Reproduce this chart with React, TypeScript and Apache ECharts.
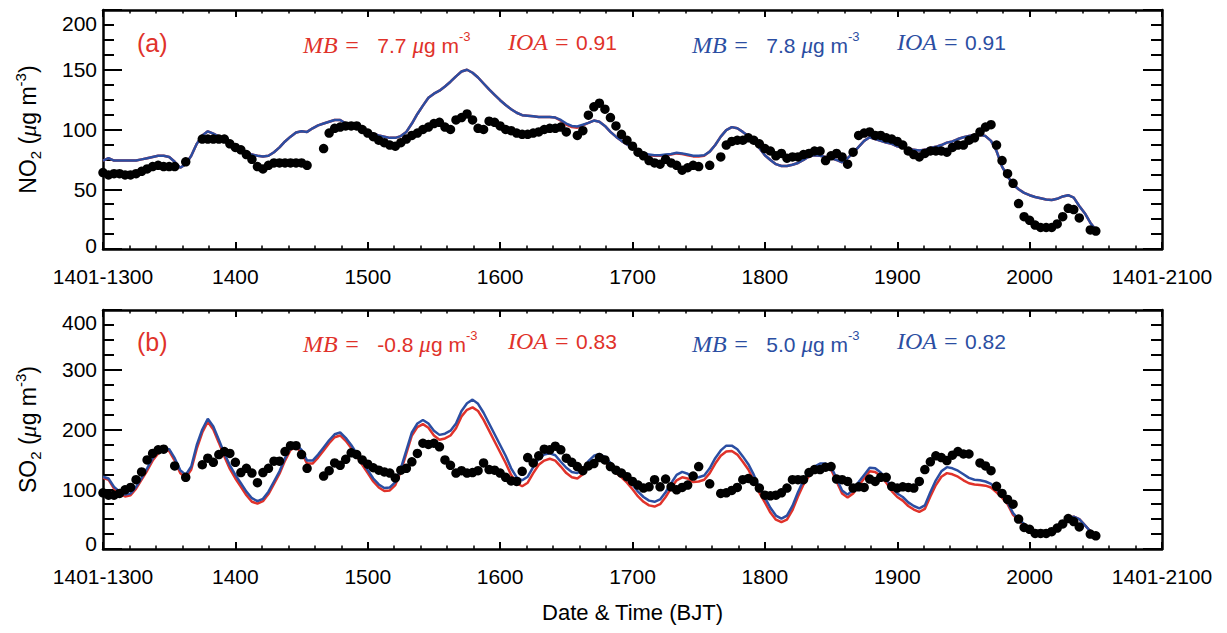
import React, { useEffect, useRef } from 'react';
import * as echarts from 'echarts';

// x positions are hours after 1401-1300 (hourly data); 24 h = one labelled tick
const xTickLabels = ['1401-1300', '1400', '1500', '1600', '1700', '1800', '1900', '2000', '1401-2100'];

const no2Obs = [
  64, 62, 63, 63, 62, 62, 63, 65, 67, 69,
  70, 69, 69, 69, null, 73, null, null, 92, 92,
  92, 92, 92, 88, 85, 83, 79, 75, 69, 67,
  70, 72, 72, 72, 72, 72, 72, 70, null, null,
  84, 97, 101, 102, 103, 103, 103, 100, 97, 94,
  91, 89, 87, 86, 89, 92, 95, 97, 100, 102,
  105, 106, 102, 100, 108, 110, 113, 108, 101, 100,
  107, 106, 103, 100, 99, 97, 96, 96, 97, 98,
  100, 101, 101, 102, 98, null, 95, 99, 112, 119,
  122, 117, 110, 103, 96, 91, 86, 81, 78, 74,
  72, 71, 75, 72, 70, 66, 68, 70, 69, null,
  70, null, 77, 87, 90, 91, 91, 93, 91, 88,
  84, 82, 78, 80, 76, 77, 77, 79, 80, 82,
  82, 74, 78, 80, 77, 71, 81, 95, 97, 98,
  95, 95, 93, 92, 90, 87, 82, 79, 77, 80,
  82, 82, 82, 81, 85, 87, 87, 91, 93, 98,
  102, 104, 87, 74, 63, 55, 38, 27, 24, 20,
  18, 18, 18, 21, 27, 34, 33, 26, null, 16,
  15,
];

const no2Blue = [
  74, 76, 74, 74, 74, 74, 74, 75, 76, 77,
  78, 78, 77, 73, 68, 71, 78, 88, 95, 98.5,
  96.5, 94, 92, 88, 85, 83, 81, 79, 78, 77.5,
  78, 81, 85, 90, 94, 97.5, 98.5, 98, 101, 103.5,
  105, 106.5, 108, 108, 105, 103.5, 102, 100, 98, 96.5,
  95, 94, 93, 93, 94.5, 98, 105, 113, 120, 126.5,
  130, 132.5, 136, 140, 144.5, 148.5, 150, 147.5, 143.5, 138.5,
  133.5, 129, 124.5, 120.5, 117, 114, 112, 111.5, 111, 110.5,
  110.5, 110.5, 110, 108, 105, 103, 102.5, 104, 105.5, 107.5,
  106.5, 103, 98, 94, 90.5, 87.5, 85, 83, 80.5, 79,
  78.5, 78.5, 79, 79.5, 80.5, 80, 79, 78, 78, 78.5,
  81.5, 87, 94, 99.5, 102, 101, 98, 94.5, 90, 84.5,
  78.5, 74.5, 71, 69.5, 69.5, 70.5, 72, 74.5, 77.5, 78.5,
  78, 77, 76, 74.5, 72.5, 76, 80.5, 85.5, 90.5, 93.5,
  92, 90.5, 89, 88, 86, 85, 83.5, 83, 82.5, 83,
  84.5, 85.5, 87, 89, 90, 92, 93.5, 94.5, 95.5, 95.5,
  94.5, 90.5, 82, 69, 61, 54, 50, 47, 45, 43.5,
  42.5, 41.5, 41, 42, 44, 45, 43, 36, 30, 22,
  16,
];

const no2Red = [
  74, 76, 74, 74, 74, 74, 74, 75, 76, 77,
  78, 78, 77, 73, 68, 71, 78, 88, 95, 98.5,
  96.5, 94, 92, 88, 85, 83, 81, 79, 78, 77.5,
  78, 81, 85, 90, 94, 97.5, 98.5, 98, 101, 103.5,
  105, 106.5, 108, 108, 105, 103.5, 102, 100, 98, 96.5,
  95, 94, 93, 93, 94.5, 98, 105, 113, 120, 126.5,
  130, 132.5, 136, 140, 144.5, 148.5, 150, 147.5, 143.5, 138.5,
  133.5, 129, 124.5, 120.5, 117, 114, 112, 111.5, 111, 110.5,
  110.5, 110.5, 110, 107.5, 104, 102, 101.5, 103.5, 105.5, 107.5,
  106.5, 103, 98, 94, 90.5, 87.5, 85, 83, 80, 78.5,
  78, 78, 78.5, 79, 80, 79.5, 78.5, 77.5, 77.5, 78,
  81.5, 87, 94, 99.5, 102, 101, 98, 94.5, 90, 84.5,
  78.5, 74.5, 71, 69.5, 69.5, 70.5, 72, 74.5, 77.5, 78.5,
  78, 77, 76, 74.5, 72.5, 76, 80.5, 85.5, 90.5, 93.5,
  92, 90.5, 89, 88, 86, 85, 83.5, 83, 82.5, 83,
  84.5, 85.5, 87, 89, 90, 92, 93.5, 94.5, 95.5, 95.5,
  94.5, 90.5, 82, 69, 61, 54, 50, 47, 45, 43.5,
  42.5, 41.5, 41, 42, 44, 45, 43, 36, 30, 22,
  16,
];

const so2Obs = [
  94, 90, 90, 93, 99, 103, 116, 129, 149, 160,
  166, 167, null, 139, null, 120, null, null, 141, 152,
  145, 158, 163, 160, 145, 128, 135, 127, 111, 128,
  135, 147, 147, 163, 173, 173, 158, 135, null, null,
  122, 131, 144, 140, 150, 161, 158, 149, 142, 136,
  132, 129, 127, 119, 132, 135, 146, 160, 177, 175,
  177, 171, 149, 140, 127, 131, 127, 128, 131, 144,
  133, 132, 127, 120, 114, 113, 130, 153, 144, 156,
  167, 166, 172, 166, 152, 145, 138, 131, 139, 143,
  153, 149, 138, 132, 127, 121, 113, 107, 102, 104,
  116, 104, 117, 104, 99, 103, 107, 122, 138, null,
  109, null, 93, 94, 98, 103, 116, 118, 113, 102,
  90, 89, 90, 94, 102, 116, 116, 116, 128, 133,
  133, 137, 138, 117, 116, 113, 102, 104, 103, 117,
  113, 120, 120, 105, 102, 104, 103, 102, 113, 133,
  146, 156, 153, 148, 157, 163, 159, 159, null, 144,
  139, 131, 105, 93, 83, 75, 50, 36, 33, 26,
  26, 26, 29, 35, 42, 51, 46, 37, null, 25,
  22,
];

const so2Blue = [
  121, 118, 104, 96, 91, 93, 104, 119, 135, 152,
  163, 168, 167, 152, 132, 124, 138, 174, 200, 218,
  205, 183, 160, 140, 124, 110, 96, 85, 80, 84,
  96, 113, 130, 152, 170, 175, 166, 148, 148, 158,
  170, 182, 192, 195, 186, 174, 160, 146, 132, 118,
  108, 102, 103, 112, 135, 165, 195, 210, 216, 210,
  198, 191, 193, 198, 210, 231, 244, 250, 243, 228,
  210, 192, 174, 156, 135, 120, 115, 121, 137, 151,
  158, 160, 157, 146, 136, 129, 127, 134, 147, 156,
  159, 154, 144, 135, 128, 119, 108, 96, 87, 81,
  79, 83, 95, 110, 124, 129, 126, 119, 120, 123,
  135, 152, 165, 173, 173, 167, 155, 142, 124, 102,
  86, 69, 56, 51, 56, 72, 95, 115, 128, 138,
  143, 143, 138, 118, 98, 91, 99, 112, 124, 136,
  135, 128, 117, 103, 93, 87, 78, 72, 68, 73,
  95, 115, 130, 137, 135, 131, 125, 119, 116, 115,
  113, 109, 100, 90, 78, 60, 50, 42, 34, 29,
  26, 25, 27, 33, 43, 52, 54, 50, 40, 30,
  24,
];

const so2Red = [
  119, 116, 101, 93, 88, 90, 101, 116, 131, 148,
  160, 166, 164, 148, 127, 119, 133, 168, 195, 213,
  200, 178, 155, 134, 118, 104, 90, 79, 76, 80,
  92, 109, 126, 148, 166, 171, 161, 143, 143, 153,
  165, 177, 187, 190, 181, 169, 155, 141, 127, 113,
  103, 97, 98, 107, 130, 160, 190, 204, 209, 203,
  190, 183, 185, 190, 202, 222, 233, 237, 231, 216,
  198, 180, 162, 144, 124, 110, 105, 111, 127, 141,
  148, 151, 148, 138, 127, 120, 118, 125, 138, 147,
  151, 146, 136, 127, 120, 111, 100, 88, 79, 73,
  71, 75, 87, 102, 115, 120, 118, 112, 113, 116,
  127, 143, 156, 163, 164, 158, 146, 133, 115, 94,
  78, 61, 49, 45, 49, 65, 88, 108, 122, 132,
  137, 138, 133, 113, 93, 86, 93, 106, 118, 130,
  129, 122, 111, 97, 87, 81, 72, 66, 62, 67,
  88, 107, 121, 127, 125, 121, 115, 110, 108, 107,
  106, 103, 95, 86, 75, 57, 48, 40, 33, 28,
  25, 24, 27, 33, 43, 52, 54, 50, 40, 30,
  24,
];

const statsA = { redMB: '7.7', redIOA: '0.91', blueMB: '7.8', blueIOA: '0.91' };
const statsB = { redMB: '-0.8', redIOA: '0.83', blueMB: '5.0', blueIOA: '0.82' };

const RED = '#e0322a';
const BLUE = '#2b4ea2';
const SANS = 'Liberation Sans, Arial, Helvetica, sans-serif';
const SERIF = 'Liberation Serif, Times New Roman, serif';

function pairs(arr: (number | null)[]) {
  return arr.map((v, i) => [i, v]).filter((p) => p[1] !== null);
}

export default function App() {
  const ref = useRef<HTMLDivElement>(null);
  useEffect(() => {
    if (!ref.current) return;
    const chart = echarts.init(ref.current, null, { renderer: 'svg' });

    const axisLine = { show: true, onZero: false, lineStyle: { color: '#000', width: 2.5 } };

    const mkX = (gi: number, pos: string, showLabels: boolean) => ({
      type: 'value',
      gridIndex: gi,
      position: pos,
      min: 0,
      max: 192,
      interval: 24,
      axisLine,
      axisTick: { show: true, inside: true, length: 7, lineStyle: { color: '#000', width: 2 } },
      minorTick: { show: true, splitNumber: 5, length: 3.5, lineStyle: { color: '#000', width: 1.5 } },
      splitLine: { show: false },
      minorSplitLine: { show: false },
      axisLabel: showLabels
        ? {
            show: true,
            color: '#000',
            fontSize: 21,
            fontFamily: SANS,
            margin: 17,
            showMinLabel: true,
            showMaxLabel: true,
            formatter: (v: number) => xTickLabels[Math.round(v / 24)] ?? '',
          }
        : { show: false },
    });

    const titleRich = {
      a: { fontSize: 23, fontFamily: SANS, color: '#000', lineHeight: 30 },
      sub: { fontSize: 15, fontFamily: SANS, color: '#000', lineHeight: 15, verticalAlign: 'bottom' },
      sup: { fontSize: 15, fontFamily: SANS, color: '#000', lineHeight: 15, verticalAlign: 'top' },
      mu: { fontSize: 24, fontFamily: SERIF, fontStyle: 'italic', color: '#000', lineHeight: 30 },
    };

    const mkY = (gi: number, pos: string, max: number, interval: number, showLabels: boolean, name?: string, topPad = 26, botPad = 8) => ({
      type: 'value',
      gridIndex: gi,
      position: pos,
      min: 0,
      max,
      interval,
      axisLine,
      axisTick: { show: true, inside: true, length: 19, lineStyle: { color: '#000', width: 2 } },
      minorTick: { show: true, splitNumber: 4, length: 11, lineStyle: { color: '#000', width: 2 } },
      splitLine: { show: false },
      minorSplitLine: { show: false },
      name: name ?? '',
      nameLocation: 'middle',
      nameGap: 60,
      nameTextStyle: { rich: titleRich },
      axisLabel: showLabels
        ? {
            show: true,
            color: '#000',
            fontSize: 21,
            fontFamily: SANS,
            margin: 6,
            showMinLabel: true,
            showMaxLabel: true,
            formatter: (v: number) => (v === max ? `{t|${v}}` : v === 0 ? `{b|${v}}` : `{n|${v}}`),
            rich: {
              n: { fontSize: 21, fontFamily: SANS, color: '#000' },
              t: { fontSize: 21, fontFamily: SANS, color: '#000', padding: [topPad, 0, 0, 0] },
              b: { fontSize: 21, fontFamily: SANS, color: '#000', padding: [0, 0, botPad, 0] },
            },
          }
        : { show: false },
    });

    const annRich = (color: string) => ({
      i: { fontSize: 24, fontFamily: SERIF, fontStyle: 'italic', fill: color, lineHeight: 30 },
      n: { fontSize: 21, fontFamily: SANS, fill: color, lineHeight: 30 },
      mu: { fontSize: 23, fontFamily: SERIF, fontStyle: 'italic', fill: color, lineHeight: 30 },
      sup: { fontSize: 13, fontFamily: SANS, fill: color, lineHeight: 13, verticalAlign: 'top' },
    });

    const mbText = (val: string, color: string, x: number, y: number) => ({
      type: 'text',
      left: x,
      top: y - 15,
      style: {
        text: `{i|MB =}{n|   ${val} }{mu|μ}{n|g m}{sup|-3}`,
        rich: annRich(color),
        fill: color,
      },
    });
    const ioaText = (val: string, color: string, x: number, y: number) => ({
      type: 'text',
      left: x,
      top: y - 15,
      style: {
        text: `{i|IOA =}{n| ${val}}`,
        rich: annRich(color),
        fill: color,
      },
    });

    const panelGraphics = (label: string, s: any, y: number) => [
      {
        type: 'text',
        left: 137,
        top: y - 15,
        style: { text: label, fontSize: 25, fontFamily: SANS, fill: RED },
      },
      mbText(s.redMB, RED, 303, y),
      ioaText(s.redIOA, RED, 508, y),
      mbText(s.blueMB, BLUE, 692, y),
      ioaText(s.blueIOA, BLUE, 897, y),
    ];

    const lineSeries = (data: (number | null)[], color: string, xi: number, yi: number) => ({
      type: 'line',
      xAxisIndex: xi,
      yAxisIndex: yi,
      data: pairs(data),
      showSymbol: false,
      symbol: 'none',
      lineStyle: { color, width: 2.5 },
      itemStyle: { color },
      z: 3,
    });
    const dotSeries = (data: (number | null)[], xi: number, yi: number) => ({
      type: 'scatter',
      xAxisIndex: xi,
      yAxisIndex: yi,
      data: pairs(data),
      symbol: 'circle',
      symbolSize: 9.5,
      itemStyle: { color: '#000', opacity: 1 },
      z: 4,
    });

    chart.setOption({
      animation: false,
      backgroundColor: '#fff',
      grid: [
        { left: 103, top: 10, width: 1059, height: 239 },
        { left: 103, top: 310, width: 1059, height: 239 },
      ],
      xAxis: [
        mkX(0, 'bottom', true),
        mkX(0, 'top', false),
        {
          ...mkX(1, 'bottom', true),
          name: 'Date & Time (BJT)',
          nameLocation: 'middle',
          nameGap: 52,
          nameTextStyle: { fontSize: 22, fontFamily: SANS, color: '#000' },
        },
        mkX(1, 'top', false),
      ],
      yAxis: [
        mkY(0, 'left', 200, 50, true, '{a|NO}{sub|2}{a| (}{mu|μ}{a|g m}{sup|-3}{a|)}', 26, 8),
        mkY(0, 'right', 200, 50, false),
        mkY(1, 'left', 400, 100, true, '{a|SO}{sub|2}{a| (}{mu|μ}{a|g m}{sup|-3}{a|)}', 24, 12),
        mkY(1, 'right', 400, 100, false),
      ],
      series: [
        lineSeries(no2Red, RED, 0, 0),
        lineSeries(no2Blue, BLUE, 0, 0),
        dotSeries(no2Obs, 0, 0),
        lineSeries(so2Red, RED, 2, 2),
        lineSeries(so2Blue, BLUE, 2, 2),
        dotSeries(so2Obs, 2, 2),
      ],
      graphic: [...panelGraphics('(a)', statsA, 45), ...panelGraphics('(b)', statsB, 344)],
    });

    return () => chart.dispose();
  }, []);

  return (
    <div
      ref={ref}
      style={{ position: 'fixed', left: 0, top: 0, width: 1227, height: 633, background: '#fff' }}
    />
  );
}
